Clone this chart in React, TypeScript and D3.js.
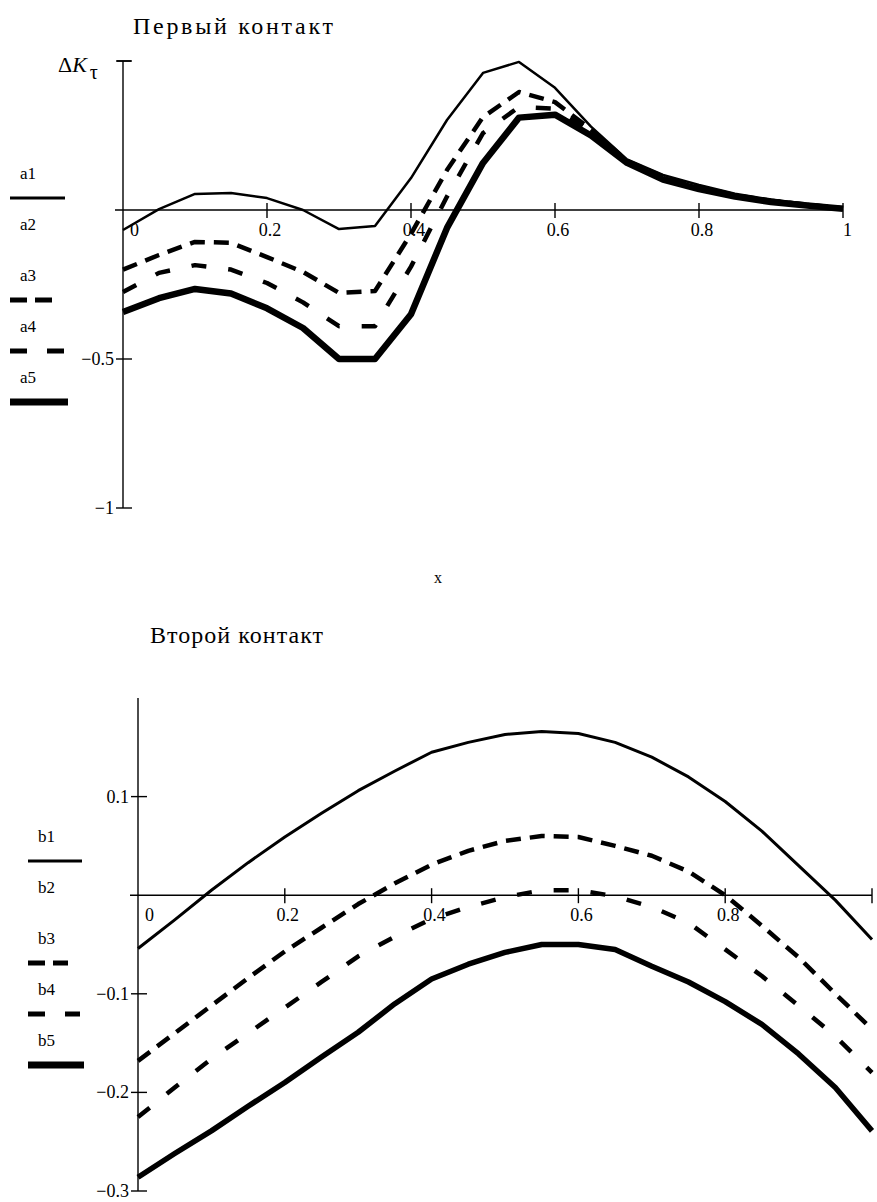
import React from "react";
import * as d3 from "d3";

const xs = [0, 0.05, 0.1, 0.15, 0.2, 0.25, 0.3, 0.35, 0.4, 0.45, 0.5, 0.55, 0.6, 0.65, 0.7, 0.75, 0.8, 0.85, 0.9, 0.95, 1];

// Первый контакт
const a1 = [-0.067, 0.003, 0.054, 0.057, 0.04, 0.0, -0.064, -0.054, 0.107, 0.302, 0.46, 0.497, 0.41, 0.28, 0.17, 0.118, 0.084, 0.055, 0.035, 0.02, 0.007];
const a3 = [-0.2, -0.151, -0.107, -0.11, -0.158, -0.208, -0.278, -0.272, -0.08, 0.134, 0.312, 0.396, 0.362, 0.27, 0.165, 0.112, 0.078, 0.05, 0.031, 0.018, 0.006];
const a4 = [-0.275, -0.211, -0.185, -0.2, -0.245, -0.31, -0.39, -0.39, -0.19, 0.045, 0.258, 0.346, 0.34, 0.265, 0.163, 0.108, 0.074, 0.048, 0.03, 0.017, 0.005];
const a5 = [-0.342, -0.296, -0.265, -0.28, -0.33, -0.396, -0.5, -0.5, -0.35, -0.06, 0.158, 0.31, 0.32, 0.25, 0.158, 0.102, 0.07, 0.045, 0.027, 0.015, 0.004];

// Второй контакт
const b1 = [-0.054, -0.025, 0.005, 0.033, 0.059, 0.083, 0.106, 0.126, 0.145, 0.155, 0.163, 0.166, 0.164, 0.155, 0.14, 0.12, 0.095, 0.065, 0.03, -0.005, -0.045];
const b3 = [-0.168, -0.14, -0.112, -0.084, -0.057, -0.033, -0.009, 0.012, 0.031, 0.045, 0.055, 0.06, 0.059, 0.05, 0.04, 0.024, 0.0, -0.031, -0.063, -0.1, -0.136];
const b4 = [-0.225, -0.195, -0.166, -0.14, -0.114, -0.088, -0.062, -0.042, -0.024, -0.012, -0.002, 0.005, 0.005, -0.001, -0.012, -0.028, -0.055, -0.082, -0.112, -0.143, -0.18];
const b5 = [-0.286, -0.262, -0.239, -0.214, -0.19, -0.164, -0.139, -0.11, -0.085, -0.07, -0.058, -0.05, -0.05, -0.055, -0.072, -0.088, -0.108, -0.131, -0.161, -0.195, -0.239];

const xTicks = [0.2, 0.4, 0.6, 0.8, 1];
const topXLabels = ["0.2", "0.4", "0.6", "0.8", "1"];
const botXLabels = ["0.2", "0.4", "0.6", "0.8", ""];
const topYTicks = [0.5, 0, -0.5, -1];
const topYLabels = ["", "", "\u22120.5", "\u22121"];
const botYTicks = [0.1, 0, -0.1, -0.2, -0.3];
const botYLabels = ["0.1", "", "\u22120.1", "\u22120.2", "\u22120.3"];

const topLegend = ["a1", "a2", "a3", "a4", "a5"];
const botLegend = ["b1", "b2", "b3", "b4", "b5"];

const FONT = "'Liberation Serif', 'DejaVu Serif', serif";
const tx = (size: number, extra: React.CSSProperties = {}): React.CSSProperties => ({
  fontFamily: FONT,
  fontSize: size + "px",
  ...extra,
});

type Style = { dash?: string } | null;
const styles: Style[] = [{}, null, { dash: "15 9" }, { dash: "15 22" }, {}];

function Chart(props: {
  x: d3.ScaleLinear<number, number>;
  y: d3.ScaleLinear<number, number>;
  series: (number[] | null)[];
  widths: number[];
  yTicks: number[];
  yLabels: string[];
  xLabels: string[];
  yTop: number;
  topT: boolean;
}) {
  const { x, y, series, widths, yTicks, yLabels, xLabels, yTop, topT } = props;
  const x0 = x(0);
  const y0 = y(0);
  const line = d3
    .line<number>()
    .x((_, i) => x(xs[i]))
    .y((d) => y(d));
  const yBottom = y(yTicks[yTicks.length - 1]);
  return (
    <g>
      <line x1={x0} x2={x0} y1={yTop} y2={yBottom} stroke="#000" strokeWidth={1.4} />
      <line x1={x0 - 8} x2={x(1)} y1={y0} y2={y0} stroke="#000" strokeWidth={1.4} />
      {yTicks.map((t, i) => {
        const yy = y(t);
        if (t === 0) return null;
        return (
          <g key={"yt" + i}>
            <line x1={x0 - 7} x2={x0 + 9} y1={yy} y2={yy} stroke="#000" strokeWidth={1.4} />
            {yLabels[i] && (
              <text x={x0 - 9} y={yy + 6} textAnchor="end" style={tx(18)}>
                {yLabels[i]}
              </text>
            )}
          </g>
        );
      })}
      {topT && <line x1={x0 - 6} x2={x0 + 8} y1={yTop} y2={yTop} stroke="#000" strokeWidth={1.6} />}
      {xTicks.map((t, i) => (
        <g key={"xt" + i}>
          <line x1={x(t)} x2={x(t)} y1={y0 - 7} y2={y0 + 8} stroke="#000" strokeWidth={1.4} />
          {xLabels[i] && (
            <text
              x={t === 1 ? x(t) : x(t) + 3}
              y={y0 + 26}
              textAnchor={t === 1 ? "start" : "middle"}
              style={tx(18)}
            >
              {xLabels[i]}
            </text>
          )}
        </g>
      ))}
      <text x={x0 + 7} y={y0 + 26} style={tx(18)}>
        0
      </text>
      {series.map((s, k) =>
        s ? (
          <path
            key={"s" + k}
            d={line(s) || ""}
            fill="none"
            stroke="#000"
            strokeWidth={widths[k]}
            strokeDasharray={styles[k]?.dash}
            strokeLinejoin="round"
          />
        ) : null
      )}
    </g>
  );
}

function Legend(props: { labels: string[]; x: number; y0: number; step: number; lens: number[] }) {
  const { labels, x, y0, step } = props;
  return (
    <g>
      {labels.map((l, i) => {
        const ly = y0 + i * step;
        const st = styles[i];
        return (
          <g key={l}>
            <text x={x + 10} y={ly + 6} style={tx(17)}>
              {l}
            </text>
            {st && (
              <line
                x1={x}
                x2={x + props.lens[i]}
                y1={ly + 25}
                y2={ly + 25}
                stroke="#000"
                strokeWidth={i === 0 ? 3 : i === 4 ? 7 : 5}
                strokeDasharray={i === 2 ? "17 8" : i === 3 ? "17 20" : undefined}
              />
            )}
          </g>
        );
      })}
    </g>
  );
}

export default function App() {
  const xT = d3.scaleLinear().domain([0, 1]).range([123, 843]);
  const yT = d3.scaleLinear().domain([-1, 0.5]).range([508, 61]);
  const xB = d3.scaleLinear().domain([0, 1]).range([138, 872]);
  const yB = d3.scaleLinear().domain([-0.3, 0.2]).range([1191, 698]);

  return (
    <svg width={877} height={1202} style={{ position: "absolute", left: 0, top: 0, background: "#fff" }}>
      <rect width={877} height={1202} fill="#fff" />
      <text x={133} y={34} style={tx(24)} textLength={200} lengthAdjust="spacing">
        Первый контакт
      </text>
      <text x={58} y={72} style={tx(22)}>
        Δ<tspan style={{ fontStyle: "italic" }}>K</tspan>
        <tspan dx={3} dy={7} style={{ fontSize: "20px" }}>τ</tspan>
      </text>
      <Chart
        x={xT}
        y={yT}
        series={[a1, null, a3, a4, a5]}
        widths={[2.5, 0, 4.5, 4.5, 6.5]}
        yTicks={topYTicks}
        yLabels={topYLabels}
        xLabels={topXLabels}
        yTop={61}
        topT={true}
      />
      <Legend labels={topLegend} x={10} y0={173} step={51} lens={[55, 0, 42, 54, 58]} />
      <text x={434} y={583} style={tx(16)}>
        x
      </text>

      <text x={150} y={643} style={tx(24)} textLength={173} lengthAdjust="spacing">
        Второй  контакт
      </text>
      <Chart
        x={xB}
        y={yB}
        series={[b1, null, b3, b4, b5]}
        widths={[3, 0, 4.5, 4.5, 5.5]}
        yTicks={botYTicks}
        yLabels={botYLabels}
        xLabels={botXLabels}
        yTop={698}
        topT={false}
      />
      <Legend labels={botLegend} x={28} y0={836} step={51} lens={[54, 0, 40, 52, 56]} />
    </svg>
  );
}
